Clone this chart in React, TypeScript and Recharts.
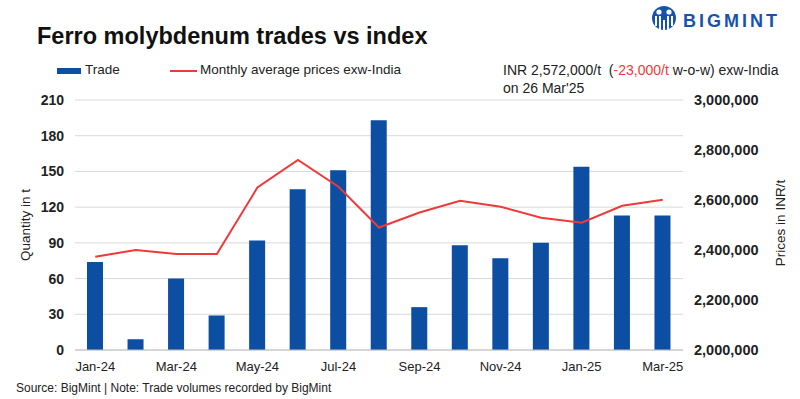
import React from "react";
import { ComposedChart, Bar, Line, XAxis, YAxis, CartesianGrid } from "recharts";

const months = ["Jan-24","Feb-24","Mar-24","Apr-24","May-24","Jun-24","Jul-24","Aug-24","Sep-24","Oct-24","Nov-24","Dec-24","Jan-25","Feb-25","Mar-25"];
const trade = [74, 9, 60, 29, 92, 135, 151, 193, 36, 88, 77, 90, 154, 113, 113];
const price = [2373000, 2400000, 2384000, 2384000, 2650000, 2760000, 2653000, 2490000, 2550000, 2597000, 2573000, 2529000, 2509000, 2577000, 2601000];
const leftTicks = [0, 30, 60, 90, 120, 150, 180, 210];
const rightTicks = [2000000, 2200000, 2400000, 2600000, 2800000, 3000000];

const data = months.map((m, i) => ({ month: m, trade: trade[i], price: price[i] }));

const FONT = "'Liberation Sans', Arial, sans-serif";
const BLUE = "#0B4EA2";
const RED = "#EE3A3A";

const fmt = (v: number) => v.toLocaleString("en-US");

export default function App() {
  return (
    <div style={{ position: "absolute", left: 0, top: 0, width: 800, height: 399, background: "#fff", fontFamily: FONT }}>
      <ComposedChart width={800} height={399} data={data} margin={{ top: 100, right: 17, bottom: 19, left: 15 }}>
        <CartesianGrid vertical={false} stroke="#d9d9d9" yAxisId="left" />
        <XAxis
          dataKey="month"
          interval={1}
          tickLine={false}
          axisLine={{ stroke: "#bfbfbf" }}
          height={30}
          tick={{ fontSize: 13, fill: "#222", fontFamily: FONT }}
          tickMargin={6}
        />
        <YAxis
          yAxisId="left"
          domain={[0, 210]}
          ticks={leftTicks}
          width={60}
          axisLine={false}
          tickLine={false}
          tickMargin={5}
          tick={{ fontSize: 14, fill: "#222", fontWeight: "bold", fontFamily: FONT }}
        />
        <YAxis
          yAxisId="right"
          orientation="right"
          domain={[2000000, 3000000]}
          ticks={rightTicks}
          width={100}
          axisLine={false}
          tickLine={false}
          tickMargin={5}
          tickFormatter={fmt}
          tick={{ fontSize: 14.5, fill: "#222", fontWeight: "bold", fontFamily: FONT }}
        />
        <Bar yAxisId="left" dataKey="trade" fill={BLUE} barSize={16} isAnimationActive={false} />
        <Line yAxisId="right" dataKey="price" stroke={RED} strokeWidth={2} dot={false} type="linear" isAnimationActive={false} />
      </ComposedChart>

      <div style={{ position: "absolute", left: 37, top: 23, fontSize: 23.5, fontWeight: "bold", color: "#111" }}>
        Ferro molybdenum trades vs index
      </div>

      <div style={{ position: "absolute", left: 57, top: 68, width: 24, height: 6, background: BLUE }} />
      <div style={{ position: "absolute", left: 85, top: 62, fontSize: 13.5, color: "#222" }}>Trade</div>
      <div style={{ position: "absolute", left: 170, top: 70, width: 27, height: 2, background: RED }} />
      <div style={{ position: "absolute", left: 200, top: 62, fontSize: 13.5, color: "#222" }}>Monthly average prices exw-India</div>

      <div style={{ position: "absolute", left: 503, top: 61, fontSize: 14, color: "#222", lineHeight: "18px", whiteSpace: "pre" }}>
        INR 2,572,000/t  (<span style={{ color: RED }}>-23,000/t</span> w-o-w) exw-India{"\n"}on 26 Mar'25
      </div>

      <div style={{ position: "absolute", left: 25, top: 225, transform: "translate(-50%, -50%) rotate(-90deg)", fontSize: 13.5, color: "#222", whiteSpace: "nowrap" }}>
        Quantity in t
      </div>
      <div style={{ position: "absolute", left: 780, top: 223, transform: "translate(-50%, -50%) rotate(-90deg)", fontSize: 13.5, color: "#222", whiteSpace: "nowrap" }}>
        Prices in INR/t
      </div>

      <div style={{ position: "absolute", left: 16, top: 381, fontSize: 12, color: "#222" }}>
        Source: BigMint | Note: Trade volumes recorded by BigMint
      </div>

      <svg style={{ position: "absolute", left: 650, top: 3 }} width={150} height={32}>
        <circle cx={14} cy={15} r={12} fill="#1652B0" />
        <circle cx={9} cy={9} r={2.6} fill="#fff" />
        <circle cx={19} cy={9} r={2.6} fill="#fff" />
        <path d="M6 13 L6 23 M10 13 L10 29 M14 17 L14 29 M18 13 L18 29 M22 13 L22 23" stroke="#fff" strokeWidth={2} />
        <text x={33} y={24} fontSize={18} fontWeight="bold" fill="#1652B0" fontFamily={FONT} letterSpacing={3}>BIGMINT</text>
      </svg>
    </div>
  );
}
